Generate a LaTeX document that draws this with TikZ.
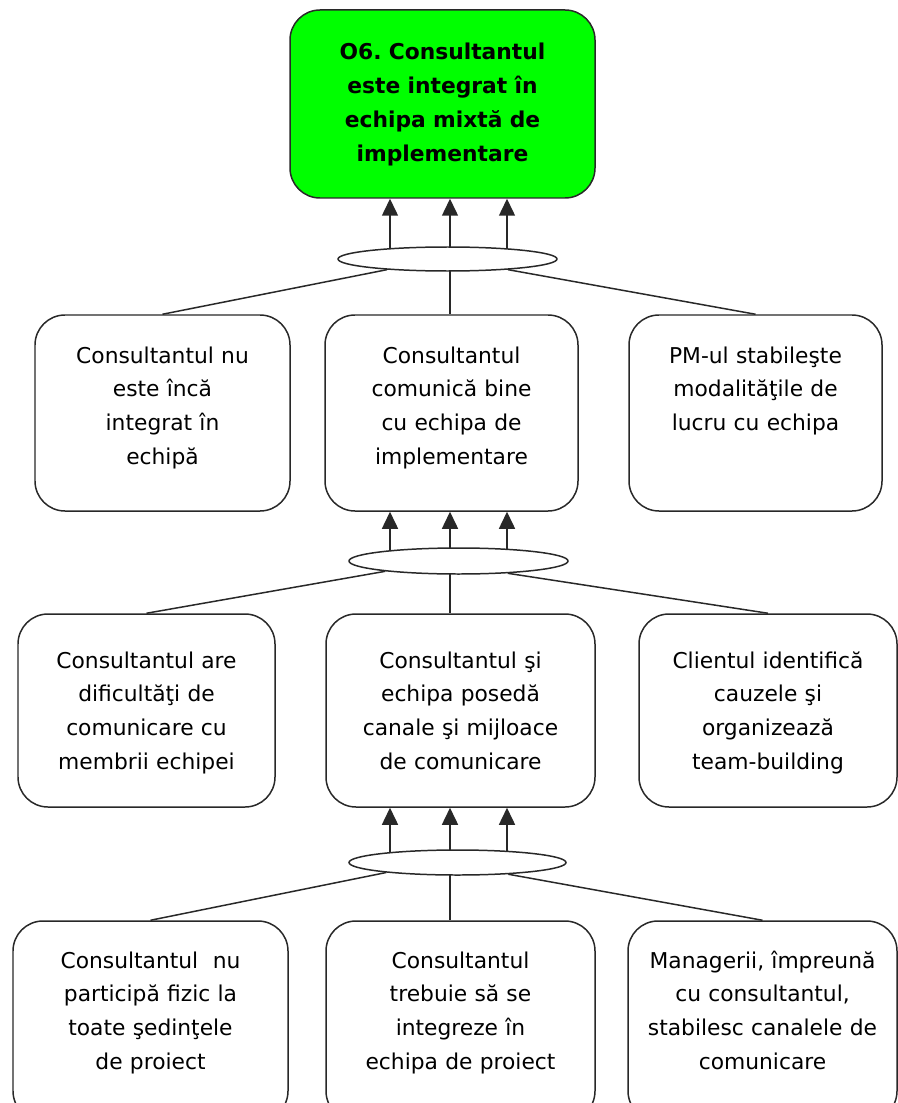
\documentclass[tikz,border=0pt]{standalone}
\usepackage{fontspec}
\setmainfont{DejaVu Sans}
\usepackage{tikz}
\usetikzlibrary{shapes.geometric, arrows.meta, backgrounds}
\definecolor{goalgreen}{RGB}{0, 255, 0}
\definecolor{linegray}{RGB}{40, 40, 40}
\frenchspacing

\begin{document}
\begin{tikzpicture}[
    box/.style={rectangle, rounded corners=0.6cm, draw=linegray, line width=0.85pt,
                fill=white, align=center, inner sep=0pt,
                font=\fontsize{12.4pt}{19.3pt}\selectfont},
    goalbox/.style={box, fill=goalgreen, text height=1.0cm, text depth=2.76cm,
                font=\fontsize{12.4pt}{19.3pt}\selectfont\bfseries},
    rowtwo/.style={box, text height=0.96cm, text depth=2.96cm},
    rowthree/.style={box, text height=1.08cm, text depth=2.78cm},
    rowfour/.style={box, text height=0.94cm, text depth=3.06cm},
    andgate/.style={ellipse, draw=linegray, line width=0.85pt, fill=white, inner sep=0pt},
    arrow/.style={-{Triangle[length=0.34cm, width=0.32cm]}, draw=linegray, line width=0.85pt},
    link/.style={draw=linegray, line width=0.85pt},
]

\useasboundingbox (0,0) rectangle (17.96,-22.06);

% Arrow columns
\coordinate (colL) at (7.8,0);
\coordinate (colM) at (9.0,0);
\coordinate (colR) at (10.14,0);

% Objective
\node[goalbox, text width=6.1cm] (goal) at (8.85,-2.08)
    {O6. Consultantul\\este integrat în\\echipa mixtă de\\implementare};
\node[andgate, minimum width=4.38cm, minimum height=0.48cm] (and1) at (8.95,-5.18) {};

% Second level
\node[rowtwo, text width=5.1cm] (r2l) at (3.25,-8.26)
    {Consultantul nu\\este încă\\integrat în\\echipă};
\node[rowtwo, text width=5.06cm] (r2m) at (9.03,-8.26)
    {Consultantul\\comunică bine\\cu echipa de\\implementare};
\node[rowtwo, text width=5.06cm] (r2r) at (15.11,-8.26)
    {PM-ul stabileşte\\modalităţile de\\lucru cu echipa};
\node[andgate, minimum width=4.38cm, minimum height=0.52cm] (and2) at (9.17,-11.22) {};

% Third level
\node[rowthree, text width=5.14cm] (r3l) at (2.93,-14.21)
    {Consultantul are\\dificultăţi de\\comunicare cu\\membrii echipei};
\node[rowthree, text width=5.38cm] (r3m) at (9.21,-14.21)
    {Consultantul şi\\echipa posedă\\canale şi mijloace\\de comunicare};
\node[rowthree, text width=5.16cm] (r3r) at (15.36,-14.21)
    {Clientul identifică\\cauzele şi\\organizează\\team-building};
\node[andgate, minimum width=4.34cm, minimum height=0.5cm] (and3) at (9.15,-17.25) {};

% Fourth level
\node[rowfour, text width=5.5cm] (r4l) at (3.01,-20.42)
    {Consultantul~~nu\\participă fizic la\\toate şedinţele\\de proiect};
\node[rowfour, text width=5.38cm] (r4m) at (9.21,-20.42)
    {Consultantul\\trebuie să se\\integreze în\\echipa de proiect};
\node[rowfour, text width=5.38cm] (r4r) at (15.25,-20.42)
    {Managerii, împreună\\cu consultantul,\\stabilesc canalele de\\comunicare};

% Connectors
\begin{scope}[on background layer]
\draw[arrow] (and1.center -| colL) -- (goal.south -| colL);
\draw[arrow] (and1.center -| colM) -- (goal.south -| colM);
\draw[arrow] (and1.center -| colR) -- (goal.south -| colR);
\draw[link] (and1.190) -- (r2l.north);
\draw[link] (and1.center -| colM) -- (r2m.north -| colM);
\draw[link] (and1.350) -- (r2r.north);

\draw[arrow] (and2.center -| colL) -- (r2m.south -| colL);
\draw[arrow] (and2.center -| colM) -- (r2m.south -| colM);
\draw[arrow] (and2.center -| colR) -- (r2m.south -| colR);
\draw[link] (and2.188) -- (r3l.north);
\draw[link] (and2.center -| colM) -- (r3m.north -| colM);
\draw[link] (and2.346) -- (r3r.north);

\draw[arrow] (and3.center -| colL) -- (r3m.south -| colL);
\draw[arrow] (and3.center -| colM) -- (r3m.south -| colM);
\draw[arrow] (and3.center -| colR) -- (r3m.south -| colR);
\draw[link] (and3.188) -- (r4l.north);
\draw[link] (and3.center -| colM) -- (r4m.north -| colM);
\draw[link] (and3.347) -- (r4r.north);
\end{scope}

\end{tikzpicture}
\end{document}
